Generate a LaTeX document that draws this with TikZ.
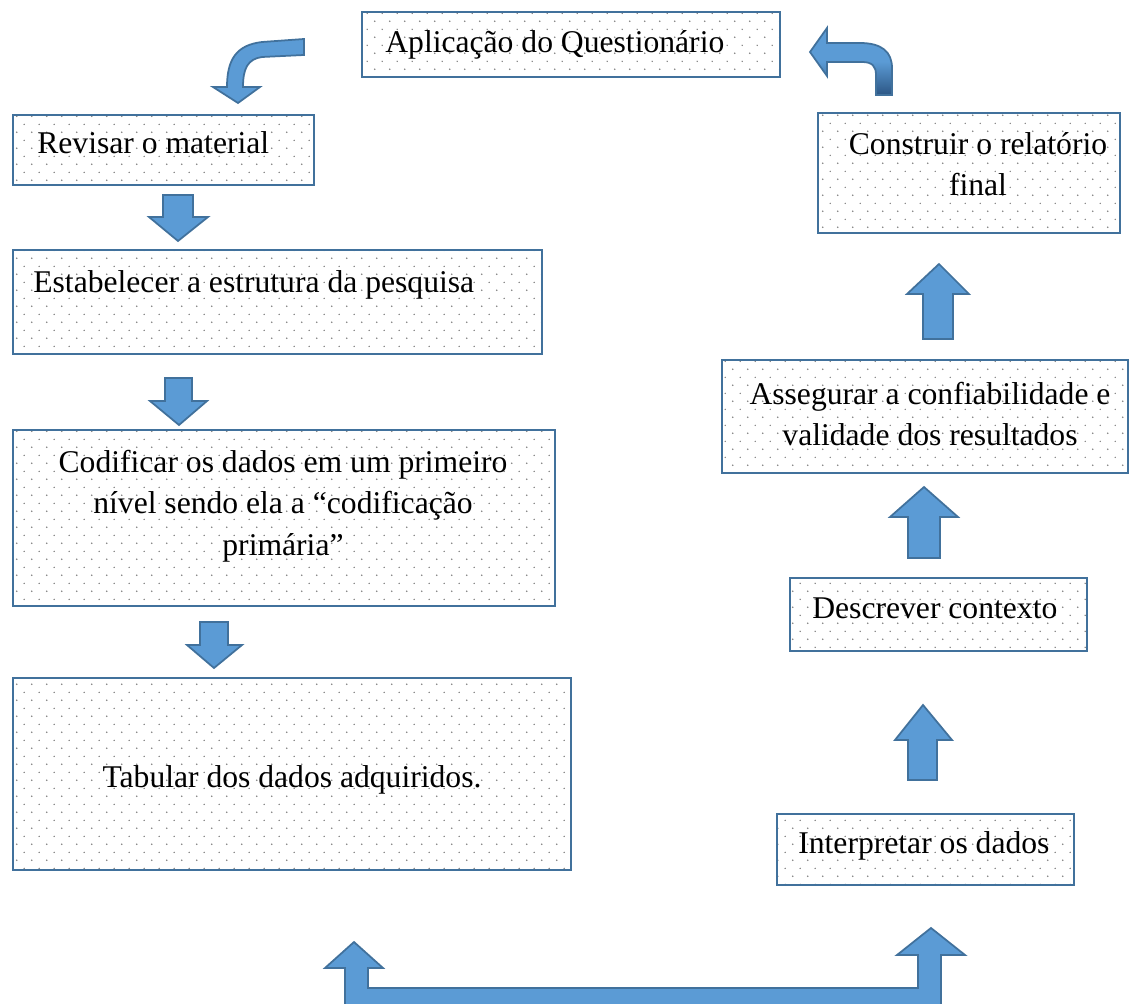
\documentclass[tikz,border=0pt]{standalone}
\usepackage{fontspec}
\setmainfont{Liberation Serif}
\usetikzlibrary{patterns,fit}
\definecolor{boxborder}{RGB}{65,113,156}
\definecolor{arrowfill}{RGB}{91,155,213}
\definecolor{arrowdark}{RGB}{44,86,132}
\pgfdeclarepatternformonly{sparsedots}{\pgfqpoint{0pt}{0pt}}{\pgfqpoint{8.5pt}{9pt}}{\pgfqpoint{8.5pt}{9pt}}{%
  \pgfpathcircle{\pgfqpoint{1pt}{1pt}}{0.45pt}%
  \pgfpathcircle{\pgfqpoint{5.25pt}{5.5pt}}{0.45pt}%
  \pgfusepath{fill}}
\begin{document}
\begin{tikzpicture}[x=0.02cm,y=-0.02cm,
  box/.style={draw=boxborder,line width=1.5pt,pattern=sparsedots,pattern color=black!50,inner sep=0pt},
  txt/.style={font=\fontsize{18}{23.5}\selectfont,inner sep=0pt,align=center},
  blk/.style={fill=arrowfill,draw=boxborder,line width=1pt,line join=miter}]
\useasboundingbox (0,0) rectangle (1130,1004);
\clip (0,0) rectangle (1130,1004);

% boxes
\node[box,fit={(362,12) (780,77)}] (b1) {};
\node[box,fit={(13,115) (314,185)}] (b2) {};
\node[box,fit={(13,250) (542,354)}] (b3) {};
\node[box,fit={(13,430) (555,606)}] (b4) {};
\node[box,fit={(13,678) (571,870)}] (b5) {};
\node[box,fit={(818,113) (1120,233)}] (b6) {};
\node[box,fit={(722,360) (1128,473)}] (b7) {};
\node[box,fit={(790,578) (1087,651)}] (b8) {};
\node[box,fit={(777,814) (1074,885)}] (b9) {};

% texts
\node[txt,anchor=base west] (t1) at (385,52) {Aplicação do Questionário};
\node[txt,anchor=base west] (t2) at (37,153) {Revisar o material};
\node[txt,anchor=base west] (t3) at (33,292) {Estabelecer a estrutura da pesquisa};
\node[txt] (t4) at (283,506) {Codificar os dados em um primeiro\\nível sendo ela a “codificação\\primária”};
\node[txt,anchor=base] (t5) at (292,787) {Tabular dos dados adquiridos.};
\node[txt] (t6) at (978,164) {Construir o relatório\\final};
\node[txt] (t7) at (930,414) {Assegurar a confiabilidade e\\validade dos resultados};
\node[txt,anchor=base west] (t8) at (812,618) {Descrever contexto};
\node[txt,anchor=base west] (t9) at (798,853) {Interpretar os dados};

% down arrows
\draw[blk] (163,195) -- (193,195) -- (193,217) -- (208,217) -- (178,241) -- (149,217) -- (163,217) -- cycle;
\draw[blk] (165,378) -- (192,378) -- (192,401) -- (207,401) -- (179,425) -- (150,401) -- (165,401) -- cycle;
\draw[blk] (200,622) -- (228,622) -- (228,645) -- (242,645) -- (214,668) -- (187,645) -- (200,645) -- cycle;

% up arrows
\draw[blk] (923,339) -- (923,294) -- (907,294) -- (939,264) -- (969,294) -- (953,294) -- (953,339) -- cycle;
\draw[blk] (908,558) -- (908,517) -- (890,517) -- (924,487) -- (958,517) -- (940,517) -- (940,558) -- cycle;
\draw[blk] (908,780) -- (908,740) -- (895,740) -- (923,705) -- (952,740) -- (937,740) -- (937,780) -- cycle;

% bottom U arrow
\draw[blk] (345,1012) -- (345,968) -- (325,968) -- (354,942) -- (383,968) -- (368,968) -- (368,988)
  -- (918,988) -- (918,955) -- (897,955) -- (931,928) -- (965,955) -- (941,955) -- (941,1012) -- cycle;

% top-left bent arrow
\draw[blk] (304,39) -- (262,42) .. controls (236,45) and (227,60) .. (227,87) -- (213,87) -- (238,103)
  -- (260,87) -- (243,87) .. controls (243,68) and (248,59) .. (262,57) -- (304,55) -- cycle;

% top-right bent arrow
\draw[draw=boxborder,line width=1pt,top color=arrowfill,bottom color=arrowdark,middle color=arrowfill]
  (876,95) -- (876,75) .. controls (876,66) and (872,62) .. (862,62) -- (827,62) -- (827,76)
  -- (810,52) -- (827,28) -- (827,43) -- (860,43) .. controls (882,43) and (892,52) .. (892,68) -- (892,95) -- cycle;
\end{tikzpicture}
\end{document}
